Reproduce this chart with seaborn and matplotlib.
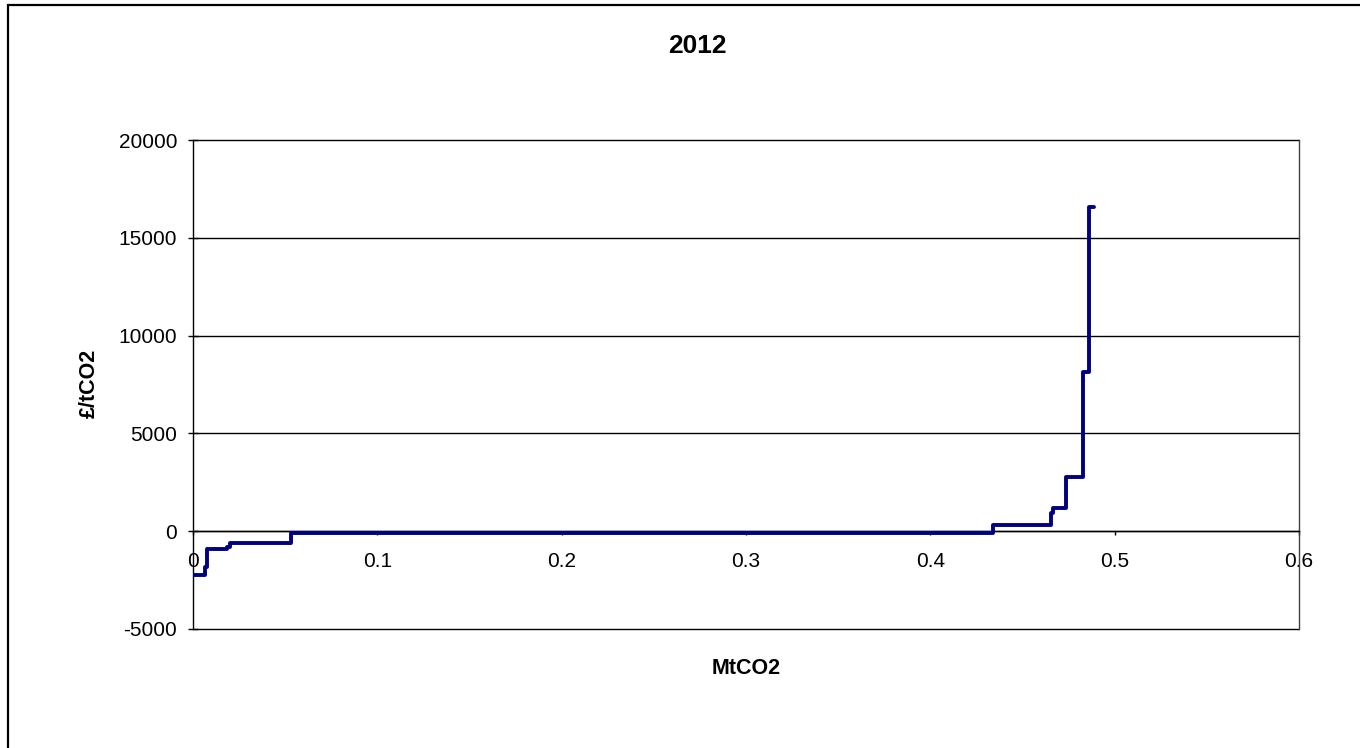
import numpy as np
import pandas as pd
import matplotlib
matplotlib.use("Agg")
import matplotlib.pyplot as plt
import seaborn as sns
from matplotlib.patches import Rectangle

# cumulative abatement (MtCO2) where each cost step starts, and the cost level (GBP/tCO2)
mtco2 = [0, 0.0065, 0.0076, 0.0183, 0.020, 0.053, 0.434, 0.4655, 0.4666, 0.4737, 0.4829, 0.4862, 0.4889]
cost = [-2250, -1850, -920, -800, -580, -80, 300, 920, 1200, 2780, 8150, 16550, 16550]

x_ticks = [0, 0.1, 0.2, 0.3, 0.4, 0.5, 0.6]
x_tick_labels = ["0", "0.1", "0.2", "0.3", "0.4", "0.5", "0.6"]
y_ticks = [-5000, 0, 5000, 10000, 15000, 20000]

df = pd.DataFrame({"MtCO2": mtco2, "cost": cost})

sns.set_style("white")
plt.rcParams["font.family"] = ["Liberation Sans", "DejaVu Sans"]
plt.rcParams["text.color"] = "black"

W, H = 1360, 748
fig = plt.figure(figsize=(W / 100, H / 100), dpi=100)
ax = fig.add_axes([193 / W, 1 - 629 / H, (1299 - 193) / W, (629 - 140) / H])

sns.lineplot(data=df, x="MtCO2", y="cost", ax=ax, color="#000080", linewidth=2.8,
             drawstyle="steps-post", sort=False, estimator=None, zorder=5)

ax.set_xlim(0, 0.6)
ax.set_ylim(-5000, 20000)
ax.set_xticks(x_ticks)
ax.set_xticklabels(x_tick_labels)
ax.set_yticks(y_ticks)
ax.set_yticklabels([str(v) for v in y_ticks])

for v in y_ticks:
    ax.axhline(v, color="black", linewidth=1.0, zorder=1, clip_on=False)

ax.spines["bottom"].set_position(("data", 0))
for s in ["left", "bottom", "right"]:
    ax.spines[s].set_color("black")
    ax.spines[s].set_linewidth(1.0)
ax.spines["right"].set_color("#404040")
ax.spines["top"].set_visible(False)

ax.tick_params(axis="y", direction="inout", length=7, width=1, pad=8,
               labelsize=15, colors="black", left=True)
ax.tick_params(axis="x", direction="out", length=3, width=1, pad=12,
               labelsize=15, colors="black", bottom=True)

ax.set_xlabel("")
ax.set_ylabel("")
fig.text(746 / W, 1 - 669 / H, "MtCO2", ha="center", va="center",
         fontsize=15.5, fontweight="bold")
fig.text(89 / W, 1 - 383 / H, "£/tCO2", ha="center", va="center", rotation=90,
         fontsize=15.5, fontweight="bold")
fig.text(697 / W, 1 - 46 / H, "2012", ha="center", va="center",
         fontsize=19, fontweight="bold")

# chart-area border (only left and top edges fall inside the image)
fig.patches.append(Rectangle((8 / W, -0.05), 1.1, 1 - 5 / H + 0.05,
                             transform=fig.transFigure, fill=False,
                             edgecolor="black", linewidth=1.6))

fig.savefig("out.png", dpi=100, facecolor="white")
